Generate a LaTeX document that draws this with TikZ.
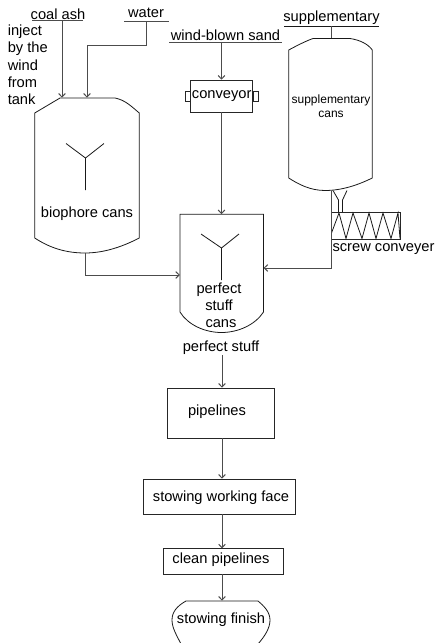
\documentclass[tikz,border=0pt]{standalone}
\usepackage{fontspec}
\setmainfont{Liberation Sans}
\usepackage{tikz}
\usetikzlibrary{arrows.meta, calc}
\tikzset{
    label/.style={inner sep=0pt, font=\fontsize{11}{13}\selectfont, text=black},
    small/.style={inner sep=0pt, font=\fontsize{9}{10.5}\selectfont, text=black, align=center},
    box/.style={rectangle, draw=black!85, inner sep=0pt, font=\fontsize{11}{13}\selectfont},
    vessel/.style={rectangle, inner sep=0pt},
    outline/.style={draw=black!90, line width=0.6pt},
    rule/.style={draw=black!70, line width=0.8pt},
    arrow/.style={-{Straight Barb[length=2.6pt,width=5pt]}, draw=black!70, line width=0.75pt},
    feed/.style={draw=black!70, line width=0.75pt}
}
\begin{document}
\begin{tikzpicture}[x=0.75pt, y=-0.75pt]
    \useasboundingbox (0,0) rectangle (435,643);
    % Feed labels
    \node[label] (coal) at (58,14) {coal ash};
    \node[label] (water) at (146,13) {water};
    \node[label] (sand) at (225.5,35) {wind-blown sand};
    \node[label] (supply) at (331.5,18) {supplementary};
    \draw[rule] (32,20.5) coordinate (coalL) -- (82.5,20.5) coordinate (coalR);
    \draw[rule] (124,21.5) coordinate (waterL) -- (168.5,21.5) coordinate (waterR);
    \draw[rule] (169,42.5) coordinate (sandL) -- (281.5,42.5) coordinate (sandR);
    \draw[outline] (284,26) coordinate (supplyL) -- (379,26) coordinate (supplyR);
    \node[label, align=left, anchor=north west] (inject) at (7.5,24.5) {inject\\by the\\wind\\from\\tank};

    % Vessels
    \node[vessel, minimum width=78pt, minimum height=116.25pt] (biocan) at (87,175.5) {};
    \node[vessel, minimum width=62.25pt, minimum height=114pt] (supcan) at (330.5,114) {};
    \node[vessel, minimum width=62.25pt, minimum height=88.5pt] (perfcan) at (221.75,273.5) {};
    \draw[outline] (biocan.west |- 0,113) -- (60,98) -- (115,98)
        .. controls (125,100) and (131,106) .. (biocan.east |- 0,113)
        -- (biocan.east |- 0,238) .. controls (120,248) and (102,253) .. (85,253)
        .. controls (66,253) and (50,248) .. (biocan.west |- 0,238) -- cycle;
    \draw[outline] (supcan.west |- 0,50) .. controls (298,45) and (306,41) .. (313,38.5) -- (350,38.5)
        .. controls (360,40) and (368,44) .. (supcan.east |- 0,50)
        -- (supcan.east |- 0,178) .. controls (358,185) and (342,190.5) .. (325,190.5)
        .. controls (310,190.5) and (298,184) .. (supcan.west |- 0,178) -- cycle;
    \draw[outline] (perfcan.north west) -- (perfcan.north east) -- (perfcan.east |- 0,312)
        .. controls (255,325) and (238,332.5) .. (221.5,332.5)
        .. controls (205,332.5) and (188,325) .. (perfcan.west |- 0,312) -- cycle;

    % Spreaders
    \coordinate (bioY) at (85.5,158);
    \coordinate (perfY) at (221.5,248);
    \draw[outline] (66,143.5) -- (bioY) -- (104,143.5) (bioY) -- (85.5,190);
    \draw[outline] (201,234) -- (perfY) -- (239,234) (perfY) -- (221.5,280);
    \node[label] (biotext) at (87,214) {biophore cans};
    \node[small] (suptext) at (331,106) {supplementary\\cans};
    \node[label] (perfa) at (219,289.5) {perfect};
    \node[label] (perfb) at (219,305.5) {stuff};
    \node[label] (perfc) at (221,324) {cans};
    \node[label] (perfout) at (221,348) {perfect stuff};

    % Conveyor with lugs
    \node[box, minimum width=46.5pt, minimum height=24pt] (conveyor) at (221.75,96) {conveyor};
    \node[rectangle, draw=black!85, inner sep=0pt, minimum width=3.75pt, minimum height=7.5pt, anchor=east] (lugL) at (conveyor.west) {};
    \node[rectangle, draw=black!85, inner sep=0pt, minimum width=3.75pt, minimum height=7.5pt, anchor=west] (lugR) at (conveyor.east) {};

    % Screw under the supplementary vessel
    \node[rectangle, draw=black!85, inner sep=0pt, minimum width=51.75pt, minimum height=20.5pt] (screw) at (366,225.75) {};
    \draw[outline] (331.5,233) -- (339,213) -- (346,238.5) -- (353,213) -- (362,238.5)
        -- (369,213) -- (376,238.5) -- (383,213) -- (391,238.5) -- (398,213) -- (400,238.5);
    \draw[outline] (333,190.5) .. controls (336,195) .. (338.5,200) -- (338.5,212);
    \draw[outline] (347,190.5) .. controls (345,195) .. (342.5,200) -- (342.5,212);
    \node[label] (screwtext) at (383.5,249.5) {screw conveyer};

    % Main boxes
    \node[box, minimum width=80pt, minimum height=37.5pt] (pipes) at (220.7,413) {};
    \node[label] (pipestext) at (217,412) {pipelines};
    \node[box, minimum width=113.5pt, minimum height=26.25pt] (face) at (219.3,496.5) {};
    \node[label] (facetext) at (221,498) {stowing working face};
    \node[box, minimum width=90pt, minimum height=19pt] (clean) at (223,561.3) {};
    \node[label] (cleantext) at (221,560) {clean pipelines};
    \node[vessel, minimum width=74.25pt, minimum height=31.5pt] (finish) at (221,622) {};
    \draw[outline] (181,644) .. controls (177,636) and (172,628) .. (172,620)
        .. controls (172,612) and (177,606) .. (186,601) -- (258,601)
        .. controls (264,606) and (270,612) .. (270,620)
        .. controls (270,628) and (265,636) .. (258,644);
    \node[label] (finishtext) at (221,619.5) {stowing finish};

    % Connectors
    \coordinate (mainflow) at (222,0);
    \coordinate (bioin) at (87,0);
    \coordinate (sandline) at (221.5,0);
    \coordinate (supline) at (331.5,0);
    \draw[arrow] (62,0 |- coalL) -- (62,0 |- biocan.north);
    \draw[arrow] (146.5,0 |- waterL) -- (146.5,45) -- (bioin |- 0,45) -- (bioin |- biocan.north);
    \draw[arrow] (sandline |- sandL) -- (sandline |- conveyor.north);
    \draw[arrow] (sandline |- conveyor.south) -- (sandline |- perfcan.north);
    \draw[feed] (supline |- supplyL) -- (supline |- supcan.north);
    \draw[arrow] (supline |- 0,190.5) -- (supline |- 0,268) -- (perfcan.east |- 0,268);
    \draw[arrow] (85.5,253) -- (85.5,275) -- (perfcan.west |- 0,275);
    \draw[arrow] (mainflow |- perfout.south) -- (mainflow |- pipes.north);
    \draw[arrow] (mainflow |- pipes.south) -- (mainflow |- face.north);
    \draw[arrow] (mainflow |- face.south) -- (mainflow |- clean.north);
    \draw[arrow] (mainflow |- clean.south) -- (mainflow |- finish.north);
\end{tikzpicture}
\end{document}
